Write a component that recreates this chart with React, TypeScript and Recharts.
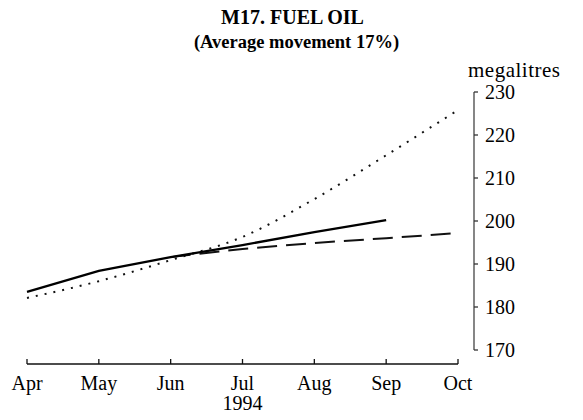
import { LineChart, Line, XAxis, YAxis } from 'recharts'

const months = ['Apr', 'May', 'Jun', 'Jul', 'Aug', 'Sep', 'Oct']
const actual = [183.5, 188.4, 191.6, 194.4, 197.4, 200.2, null]
const trend = [null, null, 191.6, 193.5, 194.9, 196.0, 197.2]
const movement = [182.1, 186.0, 190.9, 196.3, 205.1, 215.3, 225.8]
const yTicks = [170, 180, 190, 200, 210, 220, 230]

const title = 'M17. FUEL OIL'
const subtitle = '(Average movement 17%)'
const unit = 'megalitres'
const year = '1994'
const yearMonth = 'Jul'

const font = '"Liberation Serif", "Times New Roman", serif'

const data = months.map((m, i) => ({
  month: m,
  actual: actual[i],
  trend: trend[i],
  movement: movement[i],
}))

function MonthTick({ x, y, payload }: any) {
  return (
    <g>
      <line x1={x} x2={x} y1={y - 5} y2={y} stroke="#111" strokeWidth={1.3} />
      <text x={x} y={y + 26} textAnchor="middle" fontSize={20} fontFamily={font} fill="#000">
        {payload.value}
      </text>
      {payload.value === yearMonth && (
        <text x={x} y={y + 46} textAnchor="middle" fontSize={20} fontFamily={font} fill="#000">
          {year}
        </text>
      )}
    </g>
  )
}

function ValueTick({ x, y, payload }: any) {
  return (
    <g>
      <line x1={x} x2={x + 4} y1={y} y2={y} stroke="#333" strokeWidth={1.3} />
      <text x={x + 11} y={y + 7} textAnchor="start" fontSize={20} fontFamily={font} fill="#000">
        {payload.value}
      </text>
    </g>
  )
}

export default function App() {
  return (
    <div style={{ position: 'absolute', left: 0, top: 0, width: 583, height: 420, background: '#fff', fontFamily: font }}>
      <div style={{ position: 'absolute', left: 0, width: 583, top: 6, textAlign: 'center', fontSize: 20, lineHeight: '22px', fontWeight: 'bold', paddingLeft: 2, boxSizing: 'border-box' }}>
        {title}
      </div>
      <div style={{ position: 'absolute', left: 0, width: 583, top: 32, textAlign: 'center', fontSize: 18.5, lineHeight: '20px', fontWeight: 'bold', paddingLeft: 10, boxSizing: 'border-box' }}>
        {subtitle}
      </div>
      <div style={{ position: 'absolute', left: 468, top: 59, fontSize: 21, lineHeight: '22px', letterSpacing: 0.5 }}>{unit}</div>
      <LineChart width={583} height={420} data={data} margin={{ top: 92, right: 0, bottom: 0, left: 27 }}>
        <XAxis
          dataKey="month"
          interval={0}
          padding={{ left: 0, right: 16 }}
          height={56}
          tickSize={0}
          tickMargin={0}
          tickLine={false}
          axisLine={{ stroke: '#111', strokeWidth: 1.3, strokeDasharray: '431 200' }}
          tick={<MonthTick />}
        />
        <YAxis
          orientation="right"
          domain={[170, 230]}
          ticks={yTicks}
          width={109}
          padding={{ top: 0, bottom: 14 }}
          tickSize={0}
          tickMargin={0}
          tickLine={false}
          axisLine={{ stroke: '#444', strokeWidth: 1.3, strokeDasharray: '258 200' }}
          tick={<ValueTick />}
        />
        <Line dataKey="movement" type="monotone" stroke="#111" strokeWidth={2} strokeDasharray="2 7" dot={false} isAnimationActive={false} />
        <Line dataKey="trend" type="linear" stroke="#111" strokeWidth={2} strokeDasharray="20 9" dot={false} connectNulls isAnimationActive={false} />
        <Line dataKey="actual" type="linear" stroke="#000" strokeWidth={2.3} dot={false} isAnimationActive={false} />
      </LineChart>
    </div>
  )
}
